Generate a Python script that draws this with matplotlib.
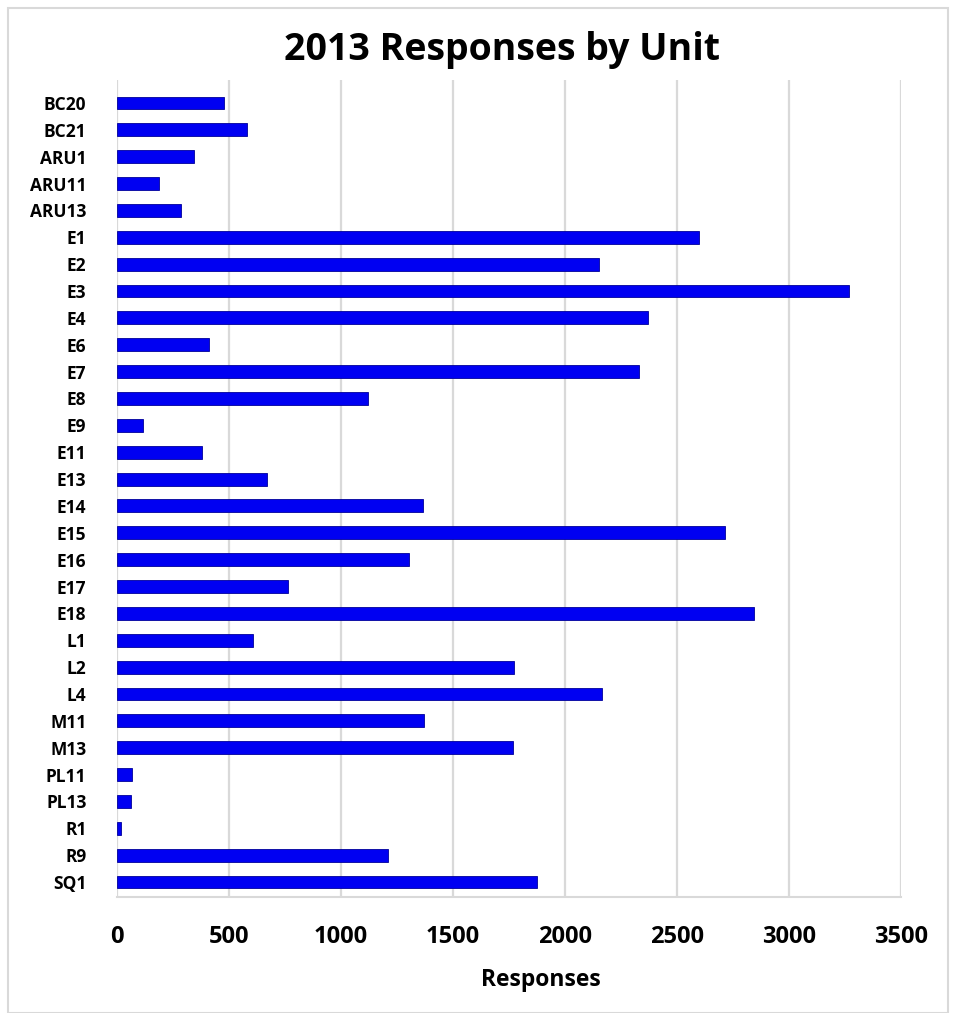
import matplotlib.pyplot as plt
from matplotlib.patches import Rectangle
import numpy as np

plt.rcParams['font.family'] = ['Open Sans', 'DejaVu Sans']

units = ['BC20', 'BC21', 'ARU1', 'ARU11', 'ARU13', 'E1', 'E2', 'E3', 'E4', 'E6',
         'E7', 'E8', 'E9', 'E11', 'E13', 'E14', 'E15', 'E16', 'E17', 'E18',
         'L1', 'L2', 'L4', 'M11', 'M13', 'PL11', 'PL13', 'R1', 'R9', 'SQ1']
responses = [477, 579, 343, 187, 285, 2597, 2151, 3270, 2370, 410,
             2330, 1122, 116, 379, 668, 1367, 2713, 1305, 762, 2842,
             606, 1773, 2165, 1372, 1768, 67, 64, 18, 1212, 1875]
xticks = [0, 500, 1000, 1500, 2000, 2500, 3000, 3500]

W, H = 956, 1013
fig = plt.figure(figsize=(W / 100, H / 100), dpi=100)

# light frame around the chart area
fig.patches.append(Rectangle((8 / W, 0), 940 / W, 1 - 8 / H, transform=fig.transFigure,
                             fill=False, edgecolor='#d9d9d9', linewidth=1.5))

n = len(units)
top_px, bot_px = 80, 897
left_px, right_px = 117, 901
ax = fig.add_axes([left_px / W, 1 - bot_px / H, (right_px - left_px) / W, (bot_px - top_px) / H])

y = np.arange(n)
ax.barh(y, responses, height=0.48, color='#0000f2', edgecolor='#00009a',
        linewidth=0.6, zorder=3)

ax.set_xlim(0, 3500)
step = (882 - 103) / (n - 1)
ax.set_ylim(n - 1 + (bot_px - 882) / step, -(103 - top_px) / step)

ax.set_xticks(xticks)
ax.set_xticklabels([str(t) for t in xticks], fontsize=17, fontweight='bold')
ax.set_yticks(y)
ax.set_yticklabels(units, fontsize=12.5, fontweight='bold')
ax.tick_params(axis='both', length=0)
ax.tick_params(axis='x', pad=20)
ax.tick_params(axis='y', pad=22)

ax.grid(axis='x', color='#d9d9d9', linewidth=1.6, zorder=0)
for side in ['top', 'right', 'left']:
    ax.spines[side].set_visible(False)
ax.spines['bottom'].set_color('#d9d9d9')
ax.spines['bottom'].set_linewidth(1.5)

ax.set_xlabel('Responses', fontsize=16.5, fontweight='bold')
ax.xaxis.set_label_coords((541 - left_px) / (right_px - left_px),
                          -(980 - bot_px) / (bot_px - top_px))
ax.xaxis.label.set_va('center')
fig.text(502 / W, 1 - 50 / H, '2013 Responses by Unit', fontsize=27,
         fontweight='bold', ha='center', va='center')

fig.savefig('out.png', dpi=100)
